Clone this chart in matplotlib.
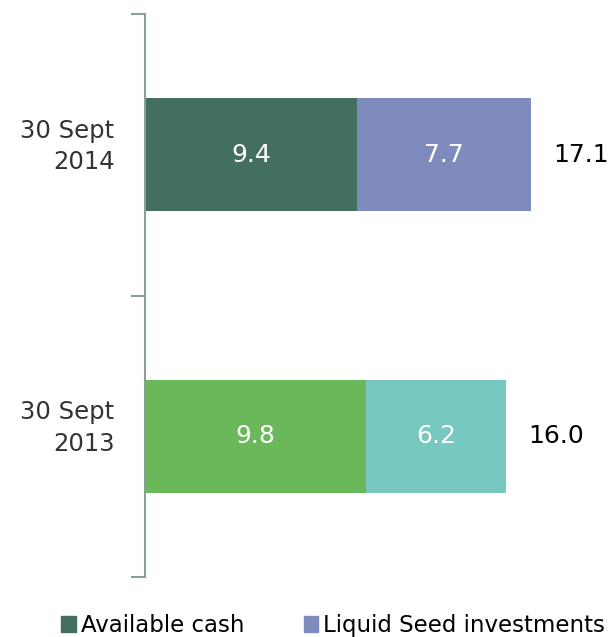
import matplotlib.pyplot as plt
from matplotlib.patches import Patch

categories = ['30 Sept\n2013', '30 Sept\n2014']
cash = [9.8, 9.4]
seed = [6.2, 7.7]
totals = [16.0, 17.1]
cash_colors = ['#6bb85a', '#436f60']
seed_colors = ['#76c8c0', '#7f8abd']

fig = plt.figure(figsize=(6.11, 6.37), dpi=100)
ax = fig.add_axes([0.2373, 0.0942, 0.7627, 0.8838])

pos = list(range(len(categories)))
ax.barh(pos, cash, height=0.4, color=cash_colors)
ax.barh(pos, seed, left=cash, height=0.4, color=seed_colors)

for i in pos:
    ax.text(cash[i] / 2, i, f'{cash[i]:.1f}', color='white', fontsize=18,
            ha='center', va='center')
    ax.text(cash[i] + seed[i] / 2, i, f'{seed[i]:.1f}', color='white', fontsize=18,
            ha='center', va='center')
    ax.text(totals[i] + 1.0, i, f'{totals[i]:.1f}', color='black', fontsize=18,
            ha='left', va='center')
    ax.text(-1.35, i + 0.03, categories[i], color='#333333', fontsize=17.5,
            ha='right', va='center', multialignment='right', linespacing=1.4)

ax.set_xlim(0, 20.66)
ax.set_ylim(-0.5, 1.5)
ax.set_yticks([-0.5, 0.5, 1.5])
ax.set_yticklabels([])
ax.set_xticks([])
ax.tick_params(axis='y', length=10, width=1.5, color='#8a9e98')
for s in ['top', 'right', 'bottom']:
    ax.spines[s].set_visible(False)
ax.spines['left'].set_color('#8a9e98')
ax.spines['left'].set_linewidth(1.5)

handles = [Patch(color='#436f60', label='Available cash'),
           Patch(color='#7f8abd', label='Liquid Seed investments')]
fig.legend(handles=handles, loc='center', bbox_to_anchor=(0.545, 0.018),
           ncol=2, frameon=False, fontsize=16.5, handlelength=0.65, handleheight=0.65,
           handletextpad=0.2, columnspacing=2.6)

fig.savefig('out.png', dpi=100)
